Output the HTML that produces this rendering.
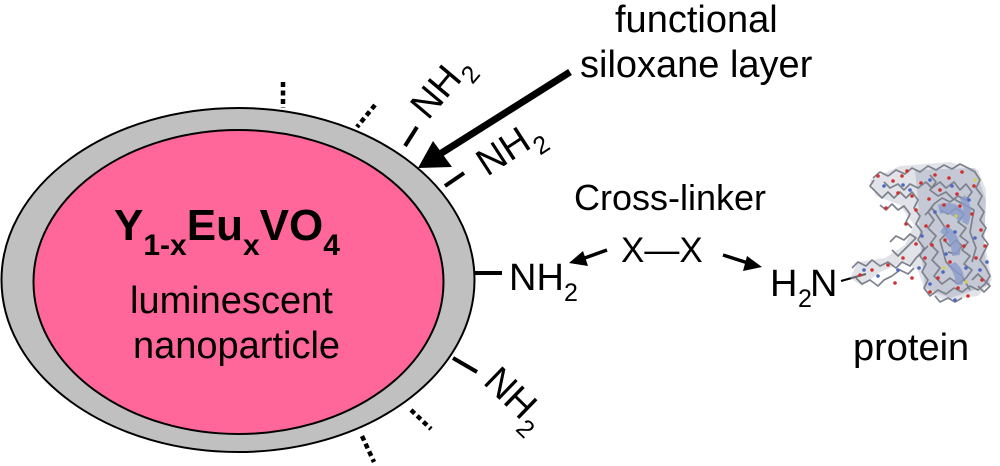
<!DOCTYPE html>
<html><head><meta charset="utf-8"><style>
html,body{margin:0;padding:0;background:#fff;}
svg{display:block;}
text{font-family:"Liberation Sans",Arial,sans-serif;fill:#000;}
</style></head><body>
<svg width="1000" height="466" viewBox="0 0 1000 466" xmlns="http://www.w3.org/2000/svg">
<rect width="1000" height="466" fill="#fff"/>
<!-- particle -->
<ellipse cx="238" cy="280" rx="236.5" ry="172" fill="#c0c0c0" stroke="#000" stroke-width="2"/>
<ellipse cx="238.5" cy="282" rx="205" ry="152" fill="#ff6699" stroke="#000" stroke-width="2"/>

<!-- title -->
<text x="114" y="240" font-weight="bold" font-size="44">Y<tspan dy="15" font-size="30">1-x</tspan><tspan dy="-15">Eu</tspan><tspan dy="15" font-size="30">x</tspan><tspan dy="-15">VO</tspan><tspan dy="15" font-size="30">4</tspan></text>
<text x="130" y="313" font-size="38">luminescent</text>
<text x="133" y="358" font-size="38">nanoparticle</text>

<!-- dotted marks -->
<g stroke="#000" stroke-width="4.5" stroke-dasharray="5 3.5" fill="none">
<line x1="283" y1="82" x2="283" y2="108"/>
<line x1="375" y1="105" x2="357" y2="127"/>
<line x1="411" y1="410" x2="431" y2="429"/>
<line x1="362" y1="436" x2="374" y2="462"/>
</g>

<!-- bonds -->
<g stroke="#000" stroke-width="4" fill="none">
<line x1="405" y1="146" x2="417" y2="127"/>
<line x1="445" y1="186" x2="464" y2="173"/>
<line x1="474" y1="273" x2="502" y2="273"/>
<line x1="453" y1="358" x2="477" y2="372"/>
</g>

<!-- rotated NH2 labels -->
<g transform="translate(428,121) rotate(-50)"><text font-size="38"><tspan x="0" y="0">NH</tspan><tspan x="56" y="11" font-size="25">2</tspan></text></g>
<g transform="translate(487,177) rotate(-33)"><text font-size="38"><tspan x="0" y="0">NH</tspan><tspan x="56" y="11" font-size="25">2</tspan></text></g>
<g transform="translate(482,383) rotate(44)"><text font-size="38"><tspan x="0" y="0">NH</tspan><tspan x="56" y="11" font-size="25">2</tspan></text></g>

<!-- right NH2 -->
<text font-size="38"><tspan x="509" y="290">NH</tspan><tspan x="564" y="301" font-size="25">2</tspan></text>

<!-- big arrow -->
<line x1="570" y1="72" x2="440" y2="154" stroke="#000" stroke-width="7"/>
<polygon points="418,168 433,141 452,167" fill="#000"/>

<!-- top text -->
<text x="615" y="32" font-size="38">functional</text>
<text x="580" y="77" font-size="38">siloxane layer</text>

<!-- cross-linker -->
<text x="574" y="210" font-size="36">Cross-linker</text>
<text x="621" y="262" font-size="35">X—X</text>
<line x1="607" y1="250" x2="582" y2="259" stroke="#000" stroke-width="3.5"/>
<polygon points="569,263 583,251 588,266" fill="#000"/>
<line x1="723" y1="255" x2="748" y2="263" stroke="#000" stroke-width="3.5"/>
<polygon points="762,267 747,256 743,271" fill="#000"/>

<!-- H2N -->
<text font-size="38"><tspan x="770" y="296">H</tspan><tspan x="798" y="307" font-size="25">2</tspan><tspan x="810" y="296">N</tspan></text>
<line x1="841" y1="281" x2="866" y2="274" stroke="#000" stroke-width="2"/>

<!-- protein molecule -->
<g>
<path d="M870,180 L900,166 L950,162 L978,170 L986,190 L984,240 L992,280 L978,296 L945,300 L925,292 L918,270 L905,262 L880,272 L862,286 L850,278 L858,262 L885,258 L905,245 L914,225 L900,205 L876,196 Z" fill="#c4c8d2" opacity="0.5"/>
<path d="M915,170 L975,168 L986,200 L984,250 L990,285 L950,298 L925,288 L920,240 L918,200 Z" fill="#a9b0c2" opacity="0.5"/>
<g fill="none" stroke="#7c818c" stroke-width="1.7" stroke-linejoin="round">
<polyline points="873,178 880,172 888,176 896,170 905,174 912,168 920,172 928,166 936,170 944,165 952,169 960,164 968,168 975,172 980,180 976,188 982,196 978,204 984,212 980,220 986,228 982,236 988,244 984,252 980,260 986,268 990,276 985,284 978,290 970,286 962,292 954,288 946,294 938,290 930,296 924,288 928,280 922,272 926,264 920,256 924,248 918,240 922,232 916,224 920,216 914,208 918,200 912,192 906,198 900,192 894,198 888,192 882,198 876,192 870,186 874,180"/>
<polyline points="884,182 890,188 898,184 904,190 910,184 918,188 926,182 932,188 940,182 946,188 954,182 960,190 966,184 972,192 966,200 958,196 950,202 942,198 934,204 928,212 934,220 928,228 936,236 930,244 938,252 932,260 940,268 934,276 942,284 950,278 958,284 966,278 972,270 964,264 970,256 962,250 968,242 960,236 966,228 958,222 964,214 956,208 948,214 940,210"/>
<polyline points="852,268 858,262 866,266 872,260 880,266 888,262 896,268 902,262 910,266 916,258 922,252 928,246"/>
<polyline points="856,278 862,284 870,280 878,286 884,280 892,276 900,270 908,274 914,268"/>
<polyline points="890,242 896,236 904,240 910,234 916,238 904,250 898,256 892,250"/>
<polyline points="944,240 950,246 956,240 962,246 956,254 948,252"/>
<polyline points="972,280 978,274 984,280 990,286 984,292 978,286"/>
<polyline points="935,296 940,302 948,298 955,302 962,298"/>
<polyline points="880,205 886,210 892,204 898,210 904,206 910,214 906,222 912,228"/>
<polyline points="930,175 936,182 930,190 938,196 946,192 952,198 974,210 970,232 976,248 972,262"/>
<polyline points="925,215 932,208 940,220 948,232 940,240 946,262 954,270 962,276 970,290"/>
</g>
<g fill="#8a9ccc" opacity="0.8">
<path d="M938,205 C950,200 962,205 966,215 L960,222 C952,214 946,212 940,214 Z"/>
<path d="M945,225 C955,230 962,240 960,255 L952,256 C952,243 946,236 940,232 Z"/>
<path d="M955,262 C962,268 966,275 962,285 L955,284 C956,276 952,270 948,266 Z"/>
<path d="M965,195 C972,205 972,215 968,225 L962,222 C965,213 963,205 960,199 Z"/>
</g>
<g fill="#d03030">
<circle cx="878" cy="176" r="1.8"/><circle cx="893" cy="181" r="1.8"/><circle cx="907" cy="171" r="1.8"/><circle cx="921" cy="183" r="1.8"/><circle cx="935" cy="175" r="1.8"/><circle cx="949" cy="178" r="1.8"/><circle cx="962" cy="172" r="1.8"/><circle cx="974" cy="186" r="1.8"/><circle cx="957" cy="194" r="1.8"/><circle cx="944" cy="205" r="1.8"/><circle cx="929" cy="199" r="1.8"/><circle cx="912" cy="196" r="1.8"/><circle cx="898" cy="193" r="1.8"/><circle cx="926" cy="226" r="1.8"/><circle cx="948" cy="226" r="1.8"/><circle cx="972" cy="214" r="1.8"/><circle cx="981" cy="230" r="1.8"/><circle cx="964" cy="246" r="1.8"/><circle cx="976" cy="258" r="1.8"/><circle cx="950" cy="262" r="1.8"/><circle cx="938" cy="278" r="1.8"/><circle cx="925" cy="258" r="1.8"/><circle cx="958" cy="288" r="1.8"/><circle cx="982" cy="280" r="1.8"/><circle cx="945" cy="240" r="1.8"/><circle cx="916" cy="244" r="1.8"/><circle cx="903" cy="258" r="1.8"/><circle cx="888" cy="265" r="1.8"/><circle cx="872" cy="270" r="1.8"/><circle cx="860" cy="275" r="1.8"/><circle cx="895" cy="283" r="1.8"/><circle cx="912" cy="278" r="1.8"/><circle cx="930" cy="292" r="1.8"/><circle cx="968" cy="296" r="1.8"/><circle cx="985" cy="246" r="1.8"/><circle cx="902" cy="176" r="1.8"/><circle cx="940" cy="190" r="1.8"/><circle cx="960" cy="206" r="1.8"/><circle cx="932" cy="245" r="1.8"/><circle cx="916" cy="210" r="1.8"/><circle cx="886" cy="208" r="1.8"/><circle cx="906" cy="224" r="1.8"/>
</g>
<g fill="#4a68c4">
<circle cx="884" cy="186" r="1.8"/><circle cx="903" cy="185" r="1.8"/><circle cx="930" cy="180" r="1.8"/><circle cx="952" cy="186" r="1.8"/><circle cx="969" cy="200" r="1.8"/><circle cx="935" cy="212" r="1.8"/><circle cx="922" cy="236" r="1.8"/><circle cx="955" cy="232" r="1.8"/><circle cx="975" cy="238" r="1.8"/><circle cx="943" cy="272" r="1.8"/><circle cx="966" cy="268" r="1.8"/><circle cx="980" cy="270" r="1.8"/><circle cx="919" cy="268" r="1.8"/><circle cx="898" cy="270" r="1.8"/><circle cx="878" cy="276" r="1.8"/><circle cx="864" cy="270" r="1.8"/><circle cx="955" cy="300" r="1.8"/><circle cx="930" cy="284" r="1.8"/><circle cx="987" cy="262" r="1.8"/><circle cx="910" cy="190" r="1.8"/><circle cx="946" cy="254" r="1.8"/>
</g>
<g fill="#d8d040">
<circle cx="956" cy="216" r="1.6"/><circle cx="975" cy="180" r="1.6"/><circle cx="944" cy="268" r="1.6"/><circle cx="966" cy="282" r="1.6"/>
</g>
</g>

<text x="853" y="360" font-size="38">protein</text>
</svg>
</body></html>
